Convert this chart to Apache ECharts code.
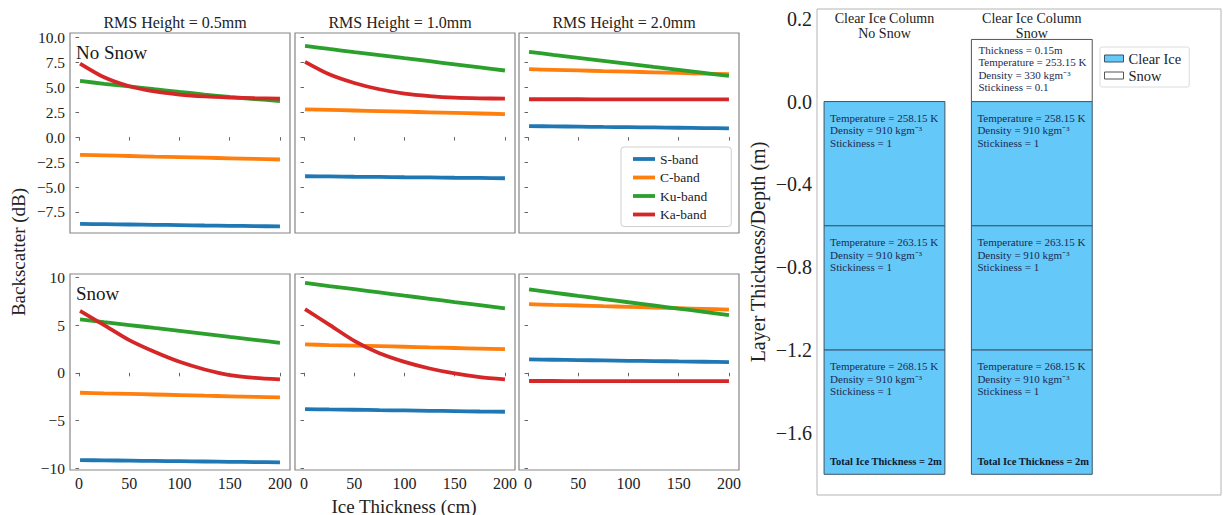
<!DOCTYPE html>
<html><head><meta charset="utf-8">
<script src="https://cdn.jsdelivr.net/npm/echarts@6/dist/echarts.min.js"></script>
<style>html,body{margin:0;padding:0;background:#fff}#c{width:1223px;height:515px}</style>
</head><body><div id="c"></div>
<script>
// ---------------- data ----------------
const thickness = [1, 25, 50, 75, 100, 125, 150, 175, 200];
const bands = ['S-band', 'C-band', 'Ku-band', 'Ka-band'];
const bandColors = ['#1f77b4', '#ff7f0e', '#2ca02c', '#d62728'];
const rmsTitles = ['RMS Height = 0.5mm', 'RMS Height = 1.0mm', 'RMS Height = 2.0mm'];
const rowLabels = ['No Snow', 'Snow'];

// No Snow row, one array per band (S, C, Ku, Ka)
const noSnowRms05 = [
  [-8.70, -8.73, -8.76, -8.79, -8.82, -8.86, -8.89, -8.92, -8.95],
  [-1.77, -1.83, -1.89, -1.95, -2.00, -2.06, -2.12, -2.18, -2.24],
  [5.63, 5.35, 5.08, 4.80, 4.53, 4.27, 4.03, 3.82, 3.62],
  [7.38, 6.00, 5.10, 4.58, 4.27, 4.08, 3.97, 3.90, 3.86]
];
const noSnowRms10 = [
  [-3.92, -3.94, -3.97, -3.99, -4.02, -4.04, -4.07, -4.09, -4.12],
  [2.79, 2.73, 2.67, 2.61, 2.55, 2.49, 2.43, 2.37, 2.31],
  [9.15, 8.84, 8.53, 8.23, 7.92, 7.61, 7.30, 6.99, 6.68],
  [7.55, 6.30, 5.43, 4.80, 4.37, 4.12, 3.96, 3.89, 3.86]
];
const noSnowRms20 = [
  [1.11, 1.08, 1.05, 1.02, 1.00, 0.97, 0.94, 0.91, 0.88],
  [6.81, 6.75, 6.69, 6.62, 6.56, 6.50, 6.44, 6.37, 6.31],
  [8.55, 8.25, 7.95, 7.65, 7.35, 7.04, 6.74, 6.44, 6.14],
  [3.80, 3.80, 3.80, 3.79, 3.79, 3.79, 3.79, 3.78, 3.78]
];
// Snow row
const snowRms05 = [
  [-9.14, -9.17, -9.20, -9.23, -9.26, -9.29, -9.32, -9.35, -9.38],
  [-2.09, -2.15, -2.21, -2.27, -2.33, -2.40, -2.46, -2.52, -2.58],
  [5.59, 5.30, 5.00, 4.70, 4.40, 4.08, 3.76, 3.45, 3.14],
  [6.49, 5.00, 3.42, 2.20, 1.15, 0.35, -0.24, -0.52, -0.69]
];
const snowRms10 = [
  [-3.80, -3.84, -3.87, -3.91, -3.94, -3.98, -4.01, -4.05, -4.08],
  [2.97, 2.91, 2.85, 2.79, 2.73, 2.66, 2.60, 2.54, 2.48],
  [9.42, 9.09, 8.76, 8.42, 8.08, 7.75, 7.41, 7.08, 6.74],
  [6.67, 5.05, 3.35, 2.05, 1.15, 0.45, -0.07, -0.45, -0.69]
];
const snowRms20 = [
  [1.40, 1.37, 1.33, 1.30, 1.26, 1.23, 1.19, 1.16, 1.12],
  [7.19, 7.12, 7.05, 6.98, 6.91, 6.83, 6.76, 6.69, 6.62],
  [8.73, 8.40, 8.06, 7.73, 7.39, 7.06, 6.72, 6.39, 6.05],
  [-0.86, -0.86, -0.87, -0.87, -0.87, -0.87, -0.87, -0.88, -0.88]
];

const xTicks = [0, 50, 100, 150, 200];
const topYTicks = [-7.5, -5.0, -2.5, 0.0, 2.5, 5.0, 7.5, 10.0];
const bottomYTicks = [-10, -5, 0, 5, 10];

// Right chart: layered columns
const columnPos = [0, 1];
const columnTitles = ['Clear Ice Column\nNo Snow', 'Clear Ice Column\nSnow'];
const iceLayerTop = [0, -0.6, -1.2];
const iceLayerBottom = [-0.6, -1.2, -1.8];
const iceTemperature = ['258.15', '263.15', '268.15'];
const iceDensity = '910';
const iceStickiness = '1';
const totalIceText = 'Total Ice Thickness = 2m';
const snowColumn = 1;
const snowTop = 0.3;
const snowBottom = 0;
const snowInfo = ['Thickness = 0.15m', 'Temperature = 253.15 K', 'Density = 330 kgm\u207B\u00B3', 'Stickiness = 0.1'];
const rightYTickValues = [0.4, 0.0, -0.4, -0.8, -1.2, -1.6];
const rightYTickLabels = ['0.2', '0.0', '\u22120.4', '\u22120.8', '\u22121.2', '\u22121.6'];

// ---------------- layout / style ----------------
const FONT = "'Liberation Serif', 'Times New Roman', serif";
const panelLeft = [70, 295, 519];
const panelWidth = 220;
const rowTop = [33, 274];
const rowHeight = [200, 196];
const rowYMin = [-9.61, -10.18];
const rowYMax = [10.44, 10.35];
const iceColor = '#64C8F8';
const iceEdge = '#3b5568';
const barWidth = 0.82;

const fmtMinus = s => String(s).replace('-', '\u2212');

const grids = [], xAxes = [], yAxes = [], series = [];
const panelData = [[noSnowRms05, noSnowRms10, noSnowRms20], [snowRms05, snowRms10, snowRms20]];

for (let r = 0; r < 2; r++) {
  for (let c = 0; c < 3; c++) {
    const gi = grids.length;
    grids.push({left: panelLeft[c], top: rowTop[r], width: panelWidth, height: rowHeight[r],
      show: true, borderColor: '#858585', borderWidth: 1.2, backgroundColor: 'transparent'});
    xAxes.push({type: 'value', gridIndex: gi, min: -9, max: 210,
      axisLine: {show: false}, splitLine: {show: false},
      axisTick: {show: true, customValues: xTicks, length: 3.5, lineStyle: {color: '#666'}},
      axisLabel: {show: r === 1, customValues: xTicks, margin: 5, fontSize: 16, fontFamily: FONT, color: '#222'}});
    const ticks = r === 0 ? topYTicks : bottomYTicks;
    yAxes.push({type: 'value', gridIndex: gi, min: rowYMin[r], max: rowYMax[r],
      axisLine: {show: false}, splitLine: {show: false},
      axisTick: {show: true, customValues: ticks, length: 3.5, lineStyle: {color: '#666'}},
      axisLabel: {show: c === 0, customValues: ticks, margin: 5, fontSize: 15.5, fontFamily: FONT, color: '#222',
        formatter: v => fmtMinus(r === 0 ? Number(v).toFixed(1) : String(Math.round(v)))}});
    const pd = panelData[r][c];
    bands.forEach((b, k) => {
      series.push({type: 'line', name: b, xAxisIndex: gi, yAxisIndex: gi,
        data: thickness.map((x, i) => [x, pd[k][i]]),
        showSymbol: false, symbol: 'none', smooth: 0.25, silent: true,
        lineStyle: {width: 3.8, color: bandColors[k]}, itemStyle: {color: bandColors[k]}, z: 2 + k});
    });
  }
}

// right chart grid
const RG = grids.length;
grids.push({left: 817, top: 9, width: 404, height: 486, show: true, borderColor: '#b5b5b5', borderWidth: 1, backgroundColor: 'transparent'});
xAxes.push({type: 'value', gridIndex: RG, min: -0.458, max: 2.284, show: false});
yAxes.push({type: 'value', gridIndex: RG, min: -1.9, max: 0.447,
  axisLine: {show: false}, splitLine: {show: false},
  axisTick: {show: true, customValues: rightYTickValues, length: 3, lineStyle: {color: '#888'}},
  axisLabel: {customValues: rightYTickValues, margin: 5, fontSize: 20, fontFamily: FONT, color: '#222',
    formatter: v => { const i = rightYTickValues.findIndex(t => Math.abs(t - v) < 1e-6); return i >= 0 ? rightYTickLabels[i] : ''; }}});

const iceData = [];
columnPos.forEach(col => iceLayerTop.forEach((t, i) => iceData.push([col, t, iceLayerBottom[i], i])));
const iceText = i => 'Temperature = ' + iceTemperature[i] + ' K\nDensity = ' + iceDensity + ' kgm\u207B\u00B3\nStickiness = ' + iceStickiness;

function txt(x, y, text, font, fill, align, valign, lh) {
  return {type: 'text', x: x, y: y, style: {text: text, font: font, fill: fill,
    align: align, verticalAlign: valign, textAlign: align, textVerticalAlign: valign, lineHeight: lh}};
}

series.push({type: 'custom', name: 'Clear Ice', xAxisIndex: RG, yAxisIndex: RG, clip: false, silent: true,
  itemStyle: {color: iceColor, borderColor: iceEdge, borderWidth: 1},
  encode: {x: 0, y: [1, 2]}, data: iceData,
  renderItem: (params, api) => {
    const col = api.value(0), top = api.value(1), bot = api.value(2), li = api.value(3);
    const a = api.coord([col - barWidth / 2, top]);
    const b = api.coord([col + barWidth / 2, bot]);
    const children = [
      {type: 'rect', shape: {x: a[0], y: a[1], width: b[0] - a[0], height: b[1] - a[1]}, style: {fill: iceColor, stroke: iceEdge, lineWidth: 1}},
      txt(a[0] + 6, a[1] + 10, iceText(li), '11px ' + FONT, '#1c2b52', 'left', 'top', 12.5)
    ];
    if (li === iceLayerTop.length - 1) children.push(txt(a[0] + 6, b[1] - 12.5, totalIceText, 'bold 10.5px ' + FONT, '#111a33', 'left', 'middle', 12));
    return {type: 'group', children: children};
  }});

series.push({type: 'custom', name: 'Snow', xAxisIndex: RG, yAxisIndex: RG, clip: false, silent: true,
  itemStyle: {color: '#ffffff', borderColor: '#555', borderWidth: 1},
  encode: {x: 0, y: [1, 2]}, data: [[snowColumn, snowTop, snowBottom]],
  renderItem: (params, api) => {
    const col = api.value(0);
    const a = api.coord([col - barWidth / 2, api.value(1)]);
    const b = api.coord([col + barWidth / 2, api.value(2)]);
    return {type: 'group', children: [
      {type: 'rect', shape: {x: a[0], y: a[1], width: b[0] - a[0], height: b[1] - a[1]}, style: {fill: '#fff', stroke: '#555', lineWidth: 1}},
      txt(a[0] + 7, a[1] + 4.5, snowInfo.join('\n'), '11px ' + FONT, '#1c2b52', 'left', 'top', 12.3)
    ]};
  }});

series.push({type: 'custom', name: 'titles', xAxisIndex: RG, yAxisIndex: RG, clip: false, silent: true, z: 10,
  data: columnPos.map((c, i) => [c, 0.447, i]), encode: {x: 0, y: 1},
  renderItem: (params, api) => {
    const p = api.coord([api.value(0), api.value(1)]);
    return txt(p[0], p[1] + 1.5, columnTitles[api.value(2)], '14px ' + FONT, '#222', 'center', 'top', 15.5);
  }});

// annotation texts
const graphics = [];
rmsTitles.forEach((t, c) => graphics.push({type: 'text', x: panelLeft[c] + panelWidth / 2 - 5, y: 22,
  style: {text: t, font: '16px ' + FONT, fill: '#222', align: 'center', verticalAlign: 'middle', textAlign: 'center', textVerticalAlign: 'middle'}}));
rowLabels.forEach((t, r) => graphics.push({type: 'text', x: 76, y: rowTop[r] + 19,
  style: {text: t, font: '19px ' + FONT, fill: '#1a1a1a', align: 'left', verticalAlign: 'middle', textAlign: 'left', textVerticalAlign: 'middle'}}));
graphics.push({type: 'text', x: 404, y: 506, style: {text: 'Ice Thickness (cm)', font: '19px ' + FONT, fill: '#222', align: 'center', verticalAlign: 'middle', textAlign: 'center', textVerticalAlign: 'middle'}});
graphics.push({type: 'text', x: 18, y: 252, rotation: Math.PI / 2, style: {text: 'Backscatter (dB)', font: '19px ' + FONT, fill: '#222', align: 'center', verticalAlign: 'middle', textAlign: 'center', textVerticalAlign: 'middle'}});
graphics.push({type: 'text', x: 758, y: 252, rotation: Math.PI / 2, style: {text: 'Layer Thickness/Depth (m)', font: '20px ' + FONT, fill: '#222', align: 'center', verticalAlign: 'middle', textAlign: 'center', textVerticalAlign: 'middle'}});

const option = {
  animation: false,
  backgroundColor: '#fff',
  grid: grids, xAxis: xAxes, yAxis: yAxes, series: series, graphic: graphics,
  legend: [
    {data: bands, orient: 'vertical', left: 621, top: 147, icon: 'rect', itemWidth: 22, itemHeight: 3.8, itemGap: 4.5,
      padding: [5, 24, 5, 12], borderColor: '#cfcfcf', borderWidth: 1, borderRadius: 3, backgroundColor: '#fff', selectedMode: false,
      textStyle: {fontFamily: FONT, fontSize: 13.5, color: '#222', lineHeight: 14}},
    {data: [{name: 'Clear Ice', itemStyle: {color: iceColor, borderColor: iceEdge, borderWidth: 1}},
            {name: 'Snow', itemStyle: {color: '#fff', borderColor: '#555', borderWidth: 1}}],
      orient: 'vertical', left: 1100, top: 47, icon: 'rect', itemWidth: 19, itemHeight: 7, itemGap: 2,
      padding: [4, 8, 4, 4], borderColor: '#dcdcdc', borderWidth: 1, borderRadius: 2, backgroundColor: '#fff', selectedMode: false,
      textStyle: {fontFamily: FONT, fontSize: 14.5, color: '#222', lineHeight: 14}}
  ]
};
const chart = echarts.init(document.getElementById('c'), null, {renderer: 'svg', width: 1223, height: 515});
chart.setOption(option);
</script></body></html>
